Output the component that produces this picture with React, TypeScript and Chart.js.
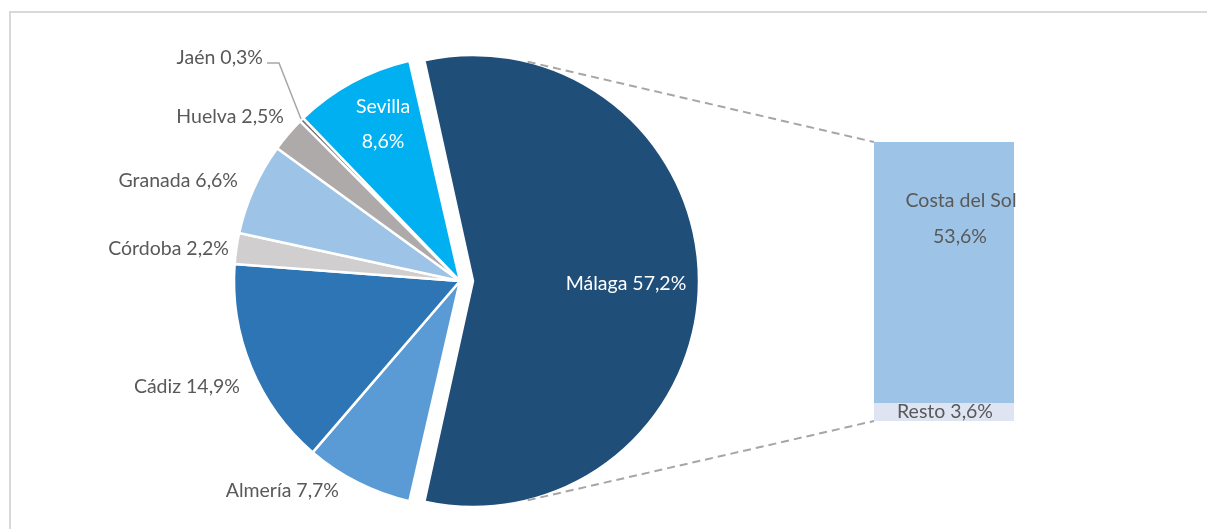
import React, { useEffect, useRef } from "react";
import { Chart, registerables } from "chart.js";

Chart.register(...registerables);

const provinces = ["Málaga", "Almería", "Cádiz", "Córdoba", "Granada", "Huelva", "Jaén", "Sevilla"];
const shares = [57.2, 7.7, 14.9, 2.2, 6.6, 2.5, 0.3, 8.6];
const sliceColors = ["#1F4E79", "#5B9BD5", "#2E75B6", "#D0CECE", "#9DC3E6", "#AEAAAA", "#767171", "#00B0F0"];

const splitNames = ["Resto", "Costa del Sol"];
const splitValues = [3.6, 53.6];
const splitColors = ["#DFE4F2", "#9DC3E6"];

const fmt = (v: number) => v.toFixed(1).replace(".", ",") + "%";

const FONT = "Lato";
const FONT_SIZE = 19.5;
const TEXT = "#595959";
const PIE_RADIUS = 226;
const EXPLODE = 13;

// label anchor positions (right-aligned outside labels)
const outsideLabelPos: Record<string, [number, number]> = {
  "Jaén": [263, 58],
  "Huelva": [284, 117],
  "Granada": [238, 181],
  "Córdoba": [229, 249],
  "Cádiz": [240, 387],
  "Almería": [339, 491],
};

export default function App() {
  const pieRef = useRef<HTMLCanvasElement>(null);
  const barRef = useRef<HTMLCanvasElement>(null);

  useEffect(() => {
    const explodeFix = {
      id: "explodeFix",
      beforeDatasetsDraw(chart: any) {
        // Chart.js grows an offset arc's radius by offset/4; keep Málaga at the pie's radius
        const arc = chart.getDatasetMeta(0).data[0] as any;
        arc.outerRadius = PIE_RADIUS - EXPLODE;
      },
    };

    const pieLabels = {
      id: "pieLabels",
      afterDraw(chart: any) {
        const ctx = chart.ctx;
        const meta = chart.getDatasetMeta(0);
        ctx.save();
        ctx.font = `${FONT_SIZE}px ${FONT}`;
        ctx.textBaseline = "middle";
        provinces.forEach((name, i) => {
          const arc = meta.data[i] as any;
          const text = `${name} ${fmt(shares[i])}`;
          if (name === "Málaga") {
            ctx.fillStyle = "#FFFFFF";
            ctx.textAlign = "center";
            ctx.fillText(text, 626, 284);
          } else if (name === "Sevilla") {
            ctx.fillStyle = "#FFFFFF";
            ctx.textAlign = "center";
            ctx.fillText(name, 383, 107);
            ctx.fillText(fmt(shares[i]), 383, 142);
          } else {
            const [x, y] = outsideLabelPos[name];
            ctx.fillStyle = TEXT;
            ctx.textAlign = "right";
            ctx.fillText(text, x, y);
            if (name === "Jaén") {
              const mid = (arc.startAngle + arc.endAngle) / 2;
              const ex = arc.x + Math.cos(mid) * (arc.outerRadius + 1);
              const ey = arc.y + Math.sin(mid) * (arc.outerRadius + 1);
              ctx.strokeStyle = "#A6A6A6";
              ctx.lineWidth = 1.5;
              ctx.beginPath();
              ctx.moveTo(x + 4, y + 5);
              ctx.lineTo(x + 16, y + 5);
              ctx.lineTo(ex, ey);
              ctx.stroke();
            }
          }
        });
        ctx.restore();
      },
    };

    const pie = new Chart(pieRef.current!, {
      type: "pie",
      data: {
        labels: provinces,
        datasets: [
          {
            data: shares,
            backgroundColor: sliceColors,
            borderColor: "#FFFFFF",
            borderWidth: 2.5,
            offset: [EXPLODE * 4, 0, 0, 0, 0, 0, 0, 0],
          },
        ],
      },
      options: {
        responsive: false,
        animation: false,
        rotation: -12.96,
        radius: PIE_RADIUS,
        layout: { padding: { left: 0, right: 287, top: 33, bottom: 0 } },
        plugins: { legend: { display: false }, tooltip: { enabled: false } },
      },
      plugins: [explodeFix, pieLabels],
    });

    const barExtras = {
      id: "barExtras",
      afterDatasetsDraw(chart: any) {
        const ctx = chart.ctx;
        const resto = chart.getDatasetMeta(0).data[0] as any;
        const costa = chart.getDatasetMeta(1).data[0] as any;
        const left = costa.x - costa.width / 2;
        const top = costa.y;
        const bottom = resto.base;
        const arc = pie.getDatasetMeta(0).data[0] as any;
        const a = (76 * Math.PI) / 180;
        const cx = arc.x + EXPLODE;
        const cy = arc.y;
        const r = PIE_RADIUS;
        ctx.save();
        ctx.strokeStyle = "#A6A6A6";
        ctx.lineWidth = 2;
        ctx.setLineDash([8, 5]);
        ctx.beginPath();
        ctx.moveTo(cx + Math.cos(-a) * r, cy + Math.sin(-a) * r);
        ctx.lineTo(left, top);
        ctx.moveTo(cx + Math.cos(a) * r, cy + Math.sin(a) * r);
        ctx.lineTo(left, bottom);
        ctx.stroke();
        ctx.setLineDash([]);
        ctx.font = `${FONT_SIZE}px ${FONT}`;
        ctx.textBaseline = "middle";
        ctx.textAlign = "center";
        ctx.fillStyle = TEXT;
        ctx.fillText(splitNames[1], costa.x + 17, 201);
        ctx.fillText(fmt(splitValues[1]), costa.x + 16, 237);
        ctx.fillText(`${splitNames[0]} ${fmt(splitValues[0])}`, costa.x + 1, 412);
        ctx.restore();
      },
    };

    const bar = new Chart(barRef.current!, {
      type: "bar",
      data: {
        labels: [""],
        datasets: splitNames.map((n, i) => ({
          label: n,
          data: [splitValues[i]],
          backgroundColor: splitColors[i],
          borderWidth: 0,
          barPercentage: 1,
          categoryPercentage: 1,
        })),
      },
      options: {
        responsive: false,
        animation: false,
        layout: { padding: { left: 874, right: 193, top: 142, bottom: 108 } },
        scales: {
          x: { display: false, stacked: true },
          y: { display: false, stacked: true, min: 0, max: splitValues[0] + splitValues[1] },
        },
        plugins: { legend: { display: false }, tooltip: { enabled: false } },
      },
      plugins: [barExtras],
    });

    return () => {
      bar.destroy();
      pie.destroy();
    };
  }, []);

  return (
    <div
      style={{
        position: "absolute",
        left: 0,
        top: 0,
        width: 1207,
        height: 529,
        overflow: "hidden",
        background: "#FFFFFF",
      }}
    >
      <div
        style={{
          position: "absolute",
          left: 9,
          top: 11,
          width: 1240,
          height: 560,
          border: "2px solid #D9D9D9",
        }}
      />
      <canvas ref={pieRef} width={1207} height={529} style={{ position: "absolute", left: 0, top: 0 }} />
      <canvas ref={barRef} width={1207} height={529} style={{ position: "absolute", left: 0, top: 0 }} />
    </div>
  );
}
